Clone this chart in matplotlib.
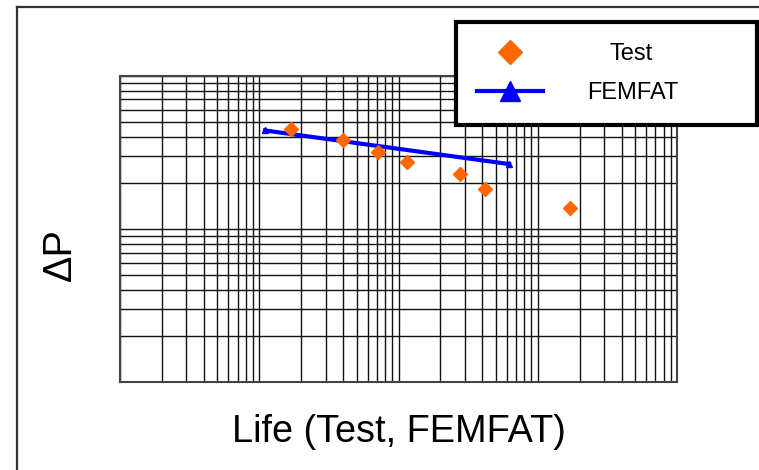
import matplotlib
matplotlib.use("Agg")
import matplotlib.pyplot as plt
from matplotlib.lines import Line2D

# Test results (life, pressure amplitude)
test_life = [17000, 40000, 71000, 116000, 277000, 416000, 1710000]
test_dp = [452, 380, 317, 273, 229, 183, 137]

# FEMFAT prediction
femfat_life = [11000, 621000]
femfat_dp = [439, 265]

x_range = [1e3, 1e7]
y_range = [1e1, 1e3]

orange = "#FF6600"
blue = "#0000FF"

plt.rcParams.update({
    "font.family": ["Liberation Sans", "DejaVu Sans"],
})

fig = plt.figure(figsize=(7.59, 4.70), dpi=100)
ax = fig.add_axes([120 / 759, 1 - 382 / 470, 557 / 759, 306.3 / 470])

ax.plot(femfat_life, femfat_dp, color=blue, linewidth=3,
        marker="^", markersize=5, zorder=3)
ax.plot(test_life, test_dp, linestyle="none", marker="D", markersize=7,
        color=orange, markeredgecolor=orange, zorder=4)

ax.set_xscale("log")
ax.set_yscale("log")
ax.set_xlim(*x_range)
ax.set_ylim(*y_range)

# Dense log grid, no tick labels
ax.grid(True, which="both", color="#111111", linewidth=1.0)
ax.set_axisbelow(True)
ax.tick_params(which="both", length=0, labelbottom=False, labelleft=False)
for s in ax.spines.values():
    s.set_color("#444444")
    s.set_linewidth(1.5)

ax.set_xlabel("Life (Test, FEMFAT)", fontsize=27.3, labelpad=23)
ax.set_ylabel("\u0394P", fontsize=28.5)
ax.yaxis.set_label_coords(-0.073, 0.415)

# Legend with larger markers than in the plot
handles = [
    Line2D([], [], linestyle="none", marker="D", markersize=12,
           color=orange, markeredgecolor=orange),
    Line2D([], [], color=blue, linewidth=3, marker="^", markersize=14),
]
leg = fig.legend(handles, ["Test", "FEMFAT"],
                 loc="upper left",
                 bbox_to_anchor=(456 / 759, 1 - 21.7 / 470, 301 / 759, 0),
                 mode="expand", borderaxespad=0,
                 fontsize=17, handlelength=2.8, handletextpad=1.86,
                 borderpad=0.9, labelspacing=0.73,
                 fancybox=False, framealpha=1, edgecolor="black")
leg.get_frame().set_linewidth(3)
leg.get_texts()[0].set_x(22)

# Outer frame (top and left edges visible)
fig.add_artist(Line2D([17 / 759, 17 / 759], [0, 1 - 6.5 / 470],
                      transform=fig.transFigure, color="#333333", linewidth=1.6))
fig.add_artist(Line2D([17 / 759, 1], [1 - 6.5 / 470, 1 - 6.5 / 470],
                      transform=fig.transFigure, color="#333333", linewidth=1.6))

fig.savefig("out.png", dpi=100)
